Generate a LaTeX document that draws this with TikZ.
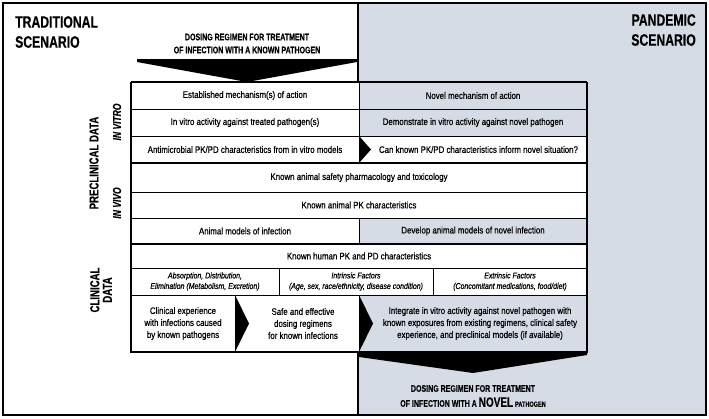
\documentclass[tikz,border=0pt]{standalone}
\usepackage{fontspec}
\setmainfont{Liberation Sans}[FakeStretch=0.83, FakeBold=0.5]
\newfontfamily\hdfont{Liberation Sans}[FakeStretch=0.74, FakeBold=0.3]
\definecolor{pblue}{HTML}{D6DCE5}
\newcommand\rowfs{\fontsize{9.5}{12}\selectfont}
\newcommand\itfs{\itshape\fontsize{8.4}{10.5}\selectfont}
\begin{document}
\begin{tikzpicture}[x=1pt,y=-1pt,
  cell/.style={draw=black, line width=0.8pt, inner sep=0pt, outer sep=0pt, align=center, font=\rowfs, fill=white},
  bcell/.style={cell, fill=pblue},
  txt/.style={inner sep=0pt, align=center, font=\rowfs},
  heavy/.style={line width=1.7pt},
  side/.style={inner sep=0pt, align=center, rotate=90, font=\hdfont\bfseries\fontsize{13}{13}\selectfont},
  sub/.style={inner sep=0pt, align=center, rotate=90, font=\hdfont\bfseries\itshape\fontsize{11.5}{12}\selectfont},
  head/.style={inner sep=0pt, font=\hdfont\bfseries\fontsize{16.5}{20}\selectfont},
  dose/.style={inner sep=0pt, align=center, font=\hdfont\bfseries\fontsize{9.5}{13}\selectfont}]
\useasboundingbox (0,0) rectangle (709,418);
\fill[white] (0,0) rectangle (709,418);
% pandemic panel
\fill[pblue] (358,3) rectangle (706,415);
\draw[line width=2pt] (3,3) rectangle (706,415);
\draw[line width=2pt] (358,3) -- (358,415);
% headers
\node[head, align=left, anchor=west] (trad) at (15,32) {TRADITIONAL\\SCENARIO};
\node[head, align=right, anchor=east] (pand) at (696,30) {PANDEMIC\\SCENARIO};
% in vitro rows
\node[cell, minimum width=228pt, minimum height=27pt] (a1) at (245,95.5) {Established mechanism(s) of action};
\node[bcell, minimum width=228pt, minimum height=27pt] (b1) at (473,95.5) {Novel mechanism of action};
\node[cell, minimum width=228pt, minimum height=27pt] (a2) at (245,122.5) {In vitro activity against treated pathogen(s)};
\node[bcell, minimum width=228pt, minimum height=27pt] (b2) at (473,122.5) {Demonstrate in vitro activity against novel pathogen};
\node[cell, minimum width=228pt, minimum height=27pt] (a3) at (245,149.5) {Antimicrobial PK/PD characteristics from in vitro models};
\node[cell, minimum width=228pt, minimum height=27pt] (b3) at (473,149.5) {};
\node[txt] (t3) at (478.5,149.5) {Can known PK/PD characteristics inform novel situation?};
% in vivo rows
\node[cell, minimum width=456pt, minimum height=29pt] (c4) at (359,177.5) {Known animal safety pharmacology and toxicology};
\node[cell, minimum width=456pt, minimum height=26pt] (c5) at (359,205) {Known animal PK characteristics};
\node[cell, minimum width=228pt, minimum height=26pt] (a6) at (245,231) {Animal models of infection};
\node[bcell, minimum width=228pt, minimum height=26pt] (b6) at (473,231) {Develop animal models of novel infection};
% clinical rows
\node[cell, minimum width=456pt, minimum height=24pt] (c7) at (359,256) {Known human PK and PD characteristics};
\node[cell, font=\itfs, minimum width=148pt, minimum height=27pt] (d8) at (205,281.5) {Absorption, Distribution,\\Elimination (Metabolism, Excretion)};
\node[cell, font=\itfs, minimum width=154pt, minimum height=27pt] (e8) at (356,281.5) {Intrinsic Factors\\(Age, sex, race/ethnicity, disease condition)};
\node[cell, font=\itfs, minimum width=154pt, minimum height=27pt] (f8) at (510,281.5) {Extrinsic Factors\\(Concomitant medications, food/diet)};
\node[cell, minimum width=104pt, minimum height=57pt] (a9) at (183,323.5) {Clinical experience\\with infections caused\\by known pathogens};
\node[cell, minimum width=124pt, minimum height=57pt] (b9) at (297,323.5) {};
\node[txt] (t9b) at (303,323.5) {Safe and effective\\dosing regimens\\for known infections};
\node[bcell, minimum width=228pt, minimum height=57pt] (c9) at (473,323.5) {};
\node[txt] (t9c) at (480,323.5) {Integrate in vitro activity against novel pathogen with\\known exposures from existing regimens, clinical safety\\experience, and preclinical models (if available)};
% heavy rules
\draw[heavy] (a1.north west) -- (b1.north east);
\draw[heavy] (a3.south west) -- (b3.south east);
\draw[heavy] (a6.south west) -- (b6.south east);
\draw[heavy] (a1.north west) -- (a9.south west) -- (c9.south east) -- (b1.north east);
% chevrons
\fill (b3.north west) -- ++(12,13.5) -- (b3.south west) -- cycle;
\fill (b9.north west) -- ++(14,28.5) -- (b9.south west) -- cycle;
\fill (c9.north west) -- ++(14,28.5) -- (c9.south west) -- cycle;
% big arrows
\fill (137,59) -- (357,59) -- (357,62) -- (247,82) -- (137,62) -- cycle;
\fill (c9.south west) -- (c9.south east) -- ++(0,3) -- (473,373) -- (359,357) -- cycle;
% dosing texts
\node[dose] (dtop) at (247,43.5) {DOSING REGIMEN FOR TREATMENT\\OF INFECTION WITH A KNOWN PATHOGEN};
\node[dose, font=\hdfont\bfseries\fontsize{9.5}{15}\selectfont] (dbot) at (473,396) {DOSING REGIMEN FOR TREATMENT\\OF INFECTION WITH A {\fontsize{13.5}{15}\selectfont NOVEL} {\fontsize{7.5}{15}\selectfont PATHOGEN}};
% side labels
\node[side] (pre) at (94,163) {PRECLINICAL DATA};
\node[sub] (vitro) at (117,122) {IN VITRO};
\node[sub] (vivo) at (117,203) {IN VIVO};
\node[side, font=\hdfont\bfseries\fontsize{13}{12.5}\selectfont] (clin) at (101,290) {CLINICAL\\DATA};
\end{tikzpicture}
\end{document}
